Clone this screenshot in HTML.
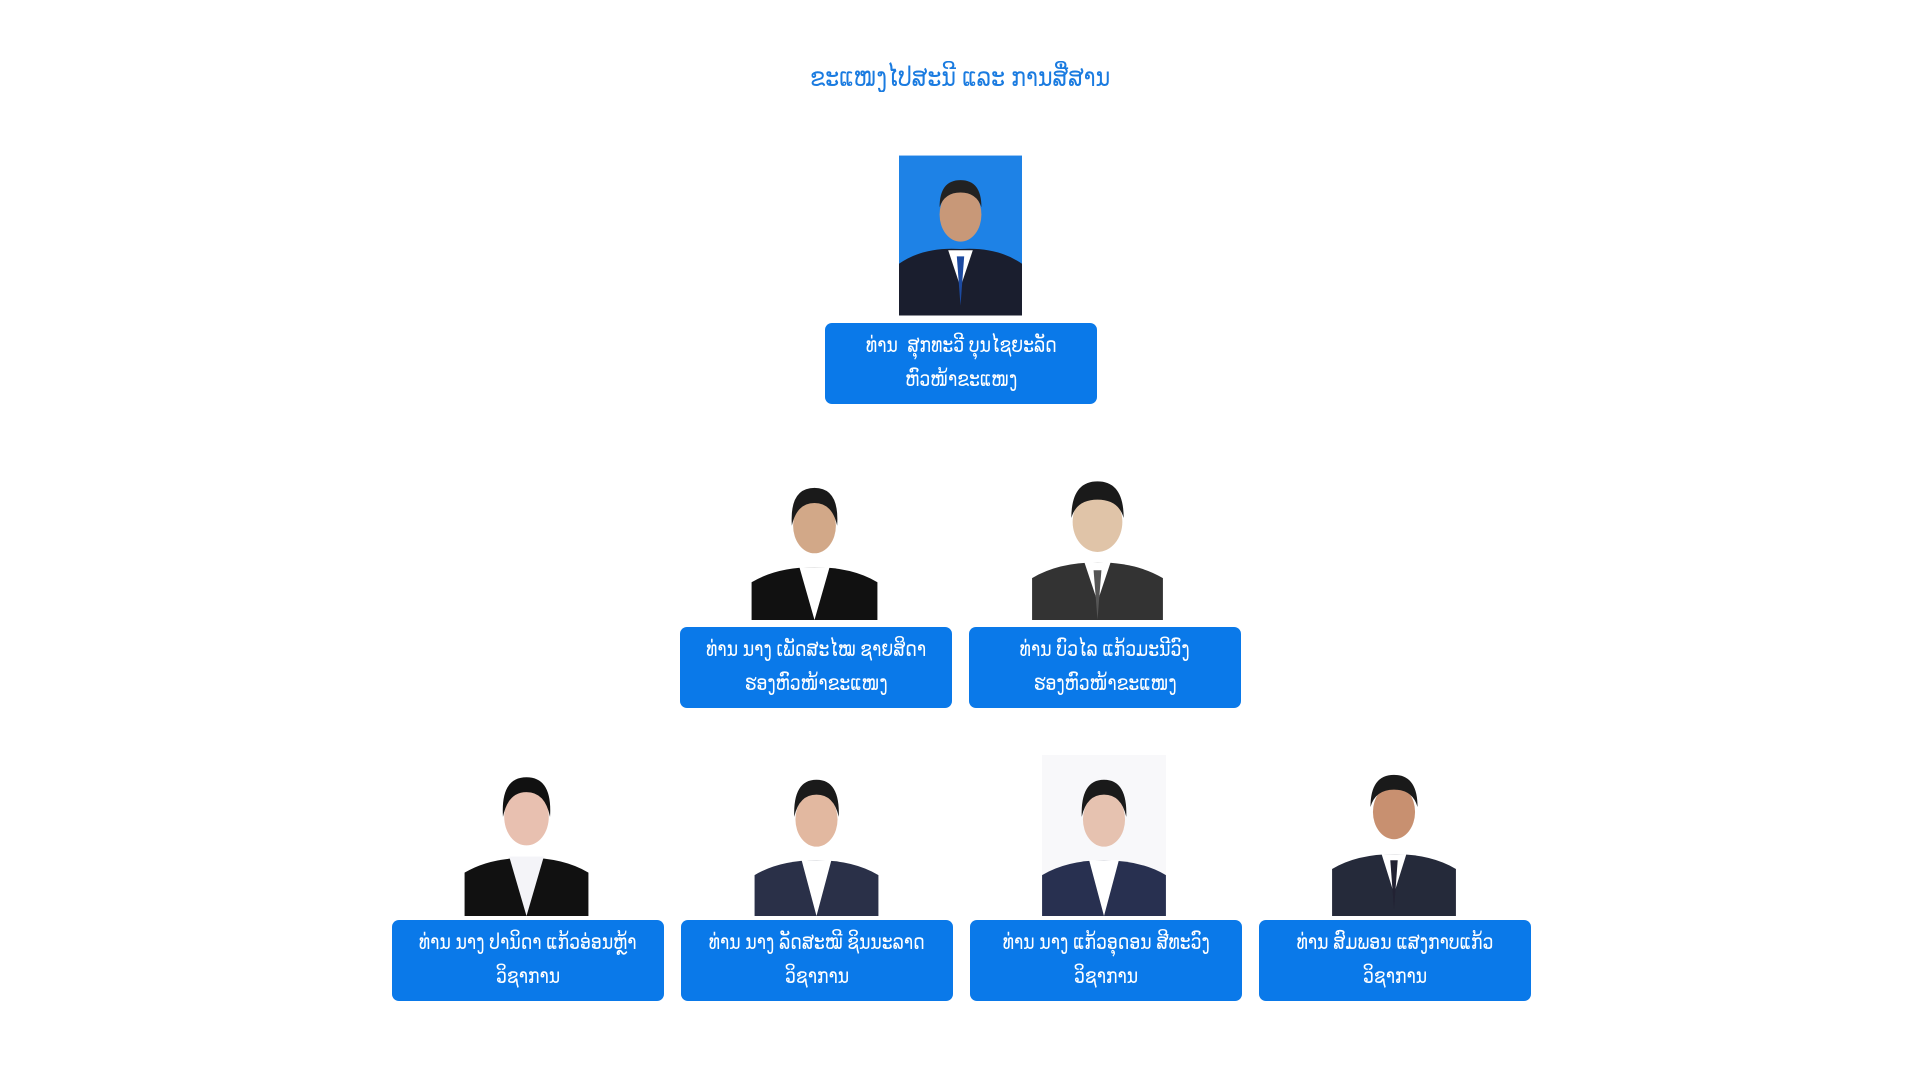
<!DOCTYPE html>
<html><head><meta charset="utf-8"><style>
body{margin:0;width:1920px;height:1080px;background:#fff;position:relative;overflow:hidden;font-family:"Liberation Sans","DejaVu Sans",sans-serif}
.t{position:absolute;left:0;width:1920px;top:62px;text-align:center;color:#1a7be0;font-size:27px}
.t span{display:inline-block;transform:scaleX(0.82)}
.b{position:absolute;width:272px;height:81px;background:#0a79e9;border-radius:7px;color:#fff;font-size:21px;line-height:34px;text-align:center;box-sizing:border-box;padding-top:6px;white-space:nowrap}
.b span{display:inline-block;transform:scaleX(0.82)}
.p{position:absolute}
</style></head><body>
<div class="t"><span>ຂະແໜງໄປສະນີ ແລະ ການສື່ສານ</span></div>

<svg class="p" style="left:899px;top:155px" width="123" height="161" viewBox="0 0 100 130"><rect width="100" height="130" fill="#1e82e6"/><path d="M0 130V88q20-14 50-12q30-2 50 12v42z" fill="#1a1e2e"/><path d="M40 77l10 30l10-30z" fill="#fff"/><path d="M47 82l3 40l3-40z" fill="#1c4aa0"/><ellipse cx="50" cy="48" rx="17" ry="22" fill="#c89878"/><path d="M33 42q0-22 17-22q17 0 17 22q-4-12-17-12q-13 0-17 12z" fill="#222"/></svg>
<div class="b" style="left:825px;top:323px"><span>ທ່ານ &nbsp;ສຸກທະວີ ບຸນໄຊຍະລັດ</span><br><span>ຫົວໜ້າຂະແໜງ</span></div>

<svg class="p" style="left:751px;top:469px" width="127" height="151" viewBox="0 0 100 120"><rect width="100" height="120" fill="#fff"/><path d="M0 120V90q20-12 50-12q30 0 50 12v30z" fill="#111"/><path d="M38 78l12 42l12-42z" fill="#fff"/><ellipse cx="50" cy="45" rx="17" ry="22" fill="#d2a888"/><path d="M32 45q-2-30 18-30q20 0 18 30q-4-18-18-18q-14 0-18 18z" fill="#1a1a1a"/></svg>
<svg class="p" style="left:1032px;top:463px" width="131" height="157" viewBox="0 0 100 120"><rect width="100" height="120" fill="#fff"/><path d="M0 120V88q20-12 50-12q30 0 50 12v32z" fill="#333"/><path d="M40 76l10 30l10-30z" fill="#fff"/><path d="M47 82l3 38l3-38z" fill="#555"/><ellipse cx="50" cy="45" rx="19" ry="23" fill="#e0c4a8"/><path d="M30 42q0-28 20-28q20 0 20 28q-4-14-20-14q-16 0-20 14z" fill="#1a1a1a"/></svg>
<div class="b" style="left:680px;top:627px"><span>ທ່ານ ນາງ ເພັດສະໄໝ ຊາຍສິດາ</span><br><span>ຮອງຫົວໜ້າຂະແໜງ</span></div>
<div class="b" style="left:969px;top:627px"><span>ທ່ານ ບົວໄລ ແກ້ວມະນີວົງ</span><br><span>ຮອງຫົວໜ້າຂະແໜງ</span></div>

<svg class="p" style="left:464px;top:755px" width="125" height="161" viewBox="0 0 100 130"><rect width="100" height="130" fill="#fff"/><path d="M0 130V95q20-12 50-12q30 0 50 12v35z" fill="#111"/><path d="M36 82l14 48l14-48z" fill="#f4f4f8"/><ellipse cx="50" cy="50" rx="18" ry="23" fill="#e8c0b0"/><path d="M31 50q-2-32 19-32q21 0 19 32q-4-20-19-20q-15 0-19 20z" fill="#111"/></svg>
<svg class="p" style="left:754px;top:755px" width="125" height="161" viewBox="0 0 100 130"><rect width="100" height="130" fill="#fff"/><path d="M0 130V97q20-12 50-12q30 0 50 12v33z" fill="#2a3048"/><path d="M38 85l12 45l12-45z" fill="#fff"/><ellipse cx="50" cy="52" rx="17" ry="22" fill="#e2b8a0"/><path d="M32 50q-1-30 18-30q19 0 18 30q-4-18-18-18q-14 0-18 18z" fill="#1a1a1a"/></svg>
<svg class="p" style="left:1041px;top:755px" width="126" height="161" viewBox="0 0 100 130"><rect width="100" height="130" fill="#f8f8fa"/><path d="M0 130V97q20-12 50-12q30 0 50 12v33z" fill="#283050"/><path d="M38 85l12 45l12-45z" fill="#fff"/><ellipse cx="50" cy="52" rx="17" ry="22" fill="#e6c2b0"/><path d="M32 50q-1-30 18-30q19 0 18 30q-4-18-18-18q-14 0-18 18z" fill="#1a1a1a"/></svg>
<svg class="p" style="left:1332px;top:755px" width="124" height="161" viewBox="0 0 100 130"><rect width="100" height="130" fill="#fff"/><path d="M0 130V92q20-12 50-12q30 0 50 12v38z" fill="#252a3a"/><path d="M40 80l10 32l10-32z" fill="#fff"/><path d="M47 85l3 40l3-40z" fill="#223"/><ellipse cx="50" cy="46" rx="17" ry="22" fill="#c89070"/><path d="M31 42q0-26 19-26q19 0 19 26q-4-14-19-14q-15 0-19 14z" fill="#1a1a1a"/></svg>
<div class="b" style="left:392px;top:920px"><span>ທ່ານ ນາງ ປານິດາ ແກ້ວອ່ອນຫຼ້າ</span><br><span>ວິຊາການ</span></div>
<div class="b" style="left:681px;top:920px"><span>ທ່ານ ນາງ ລັດສະໝີ ຊິນນະລາດ</span><br><span>ວິຊາການ</span></div>
<div class="b" style="left:970px;top:920px"><span>ທ່ານ ນາງ ແກ້ວອຸດອນ ສີທະວົງ</span><br><span>ວິຊາການ</span></div>
<div class="b" style="left:1259px;top:920px"><span>ທ່ານ ສົມພອນ ແສງກາບແກ້ວ</span><br><span>ວິຊາການ</span></div>
</body></html>
